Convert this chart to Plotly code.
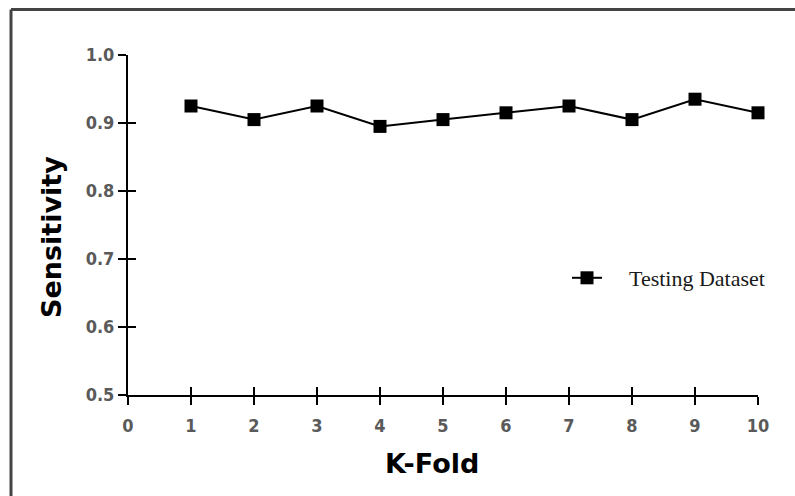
import plotly.graph_objects as go

k_fold = [1, 2, 3, 4, 5, 6, 7, 8, 9, 10]
sensitivity = [0.925, 0.905, 0.925, 0.895, 0.905, 0.915, 0.925, 0.905, 0.935, 0.915]
x_ticks = [0, 1, 2, 3, 4, 5, 6, 7, 8, 9, 10]
y_ticks = [0.5, 0.6, 0.7, 0.8, 0.9, 1.0]

L, R, T, B = 128, 37, 55, 101
W, H = 795, 496
pw, ph = W - L - R, H - T - B

def px_x(p):
    return (p - L) / pw

def px_y(p):
    return (H - B - p) / ph

fig = go.Figure()
fig.add_trace(go.Scatter(
    x=k_fold, y=sensitivity, mode="lines+markers",
    name="\u00a0\u00a0\u00a0\u00a0Testing Dataset",
    line=dict(color="black", width=2),
    marker=dict(symbol="square", size=13, color="black"),
    cliponaxis=False,
))
# invisible trace to carry the overlay axes (inside ticks)
fig.add_trace(go.Scatter(x=k_fold, y=sensitivity, xaxis="x2", yaxis="y2",
                         mode="markers", marker=dict(opacity=0), showlegend=False,
                         hoverinfo="skip"))

tickfont = dict(family="DejaVu Sans Condensed, DejaVu Sans", size=18, color="#5a5a5a", weight="bold")
titlefont = dict(family="DejaVu Sans", size=27, color="black", weight="bold")
fig.update_layout(
    width=W, height=H,
    margin=dict(l=L, r=R, t=T, b=B),
    paper_bgcolor="white", plot_bgcolor="white",
    showlegend=True,
    legend=dict(x=px_x(567), y=px_y(278), xanchor="left", yanchor="middle",
                font=dict(family="Liberation Serif", size=22, color="#1a1a1a"),
                bgcolor="rgba(0,0,0,0)", itemwidth=30),
    xaxis=dict(range=[0, 10], tickvals=x_ticks, ticktext=[str(v) for v in x_ticks],
               showgrid=False, zeroline=False, showline=True, linecolor="black", linewidth=2,
               ticks="outside", ticklen=8, tickwidth=2, tickcolor="black",
               tickfont=tickfont, ticklabelstandoff=5),
    yaxis=dict(range=[0.5, 1.0], tickvals=y_ticks, ticktext=[f"{v:.1f}" for v in y_ticks],
               showgrid=False, zeroline=False, showline=True, linecolor="black", linewidth=2,
               ticks="outside", ticklen=8, tickwidth=2, tickcolor="black",
               tickfont=tickfont),
    xaxis2=dict(range=[0, 10], tickvals=x_ticks, overlaying="x", side="bottom",
                showgrid=False, zeroline=False, showticklabels=False,
                ticks="inside", ticklen=8, tickwidth=2, tickcolor="black"),
    yaxis2=dict(range=[0.5, 1.0], tickvals=y_ticks, overlaying="y", side="left",
                showgrid=False, zeroline=False, showticklabels=False,
                ticks="inside", ticklen=8, tickwidth=2, tickcolor="black"),
)

# axis titles placed as annotations for exact positioning
fig.add_annotation(text="K-Fold", xref="paper", yref="paper",
                   x=px_x(432), y=px_y(463), xanchor="center", yanchor="middle",
                   showarrow=False, font=titlefont)
fig.add_annotation(text="Sensitivity", xref="paper", yref="paper",
                   x=px_x(51), y=px_y(237), xanchor="center", yanchor="middle",
                   textangle=-90, showarrow=False, font=titlefont)

# outer frame (left and top edges)
fig.add_shape(type="line", xref="paper", yref="paper",
              x0=px_x(11), x1=px_x(11), y0=px_y(9.5), y1=px_y(500),
              line=dict(color="#444444", width=3))
fig.add_shape(type="line", xref="paper", yref="paper",
              x0=px_x(11), x1=px_x(800), y0=px_y(9.5), y1=px_y(9.5),
              line=dict(color="#444444", width=3))

fig.write_html("out.html")
